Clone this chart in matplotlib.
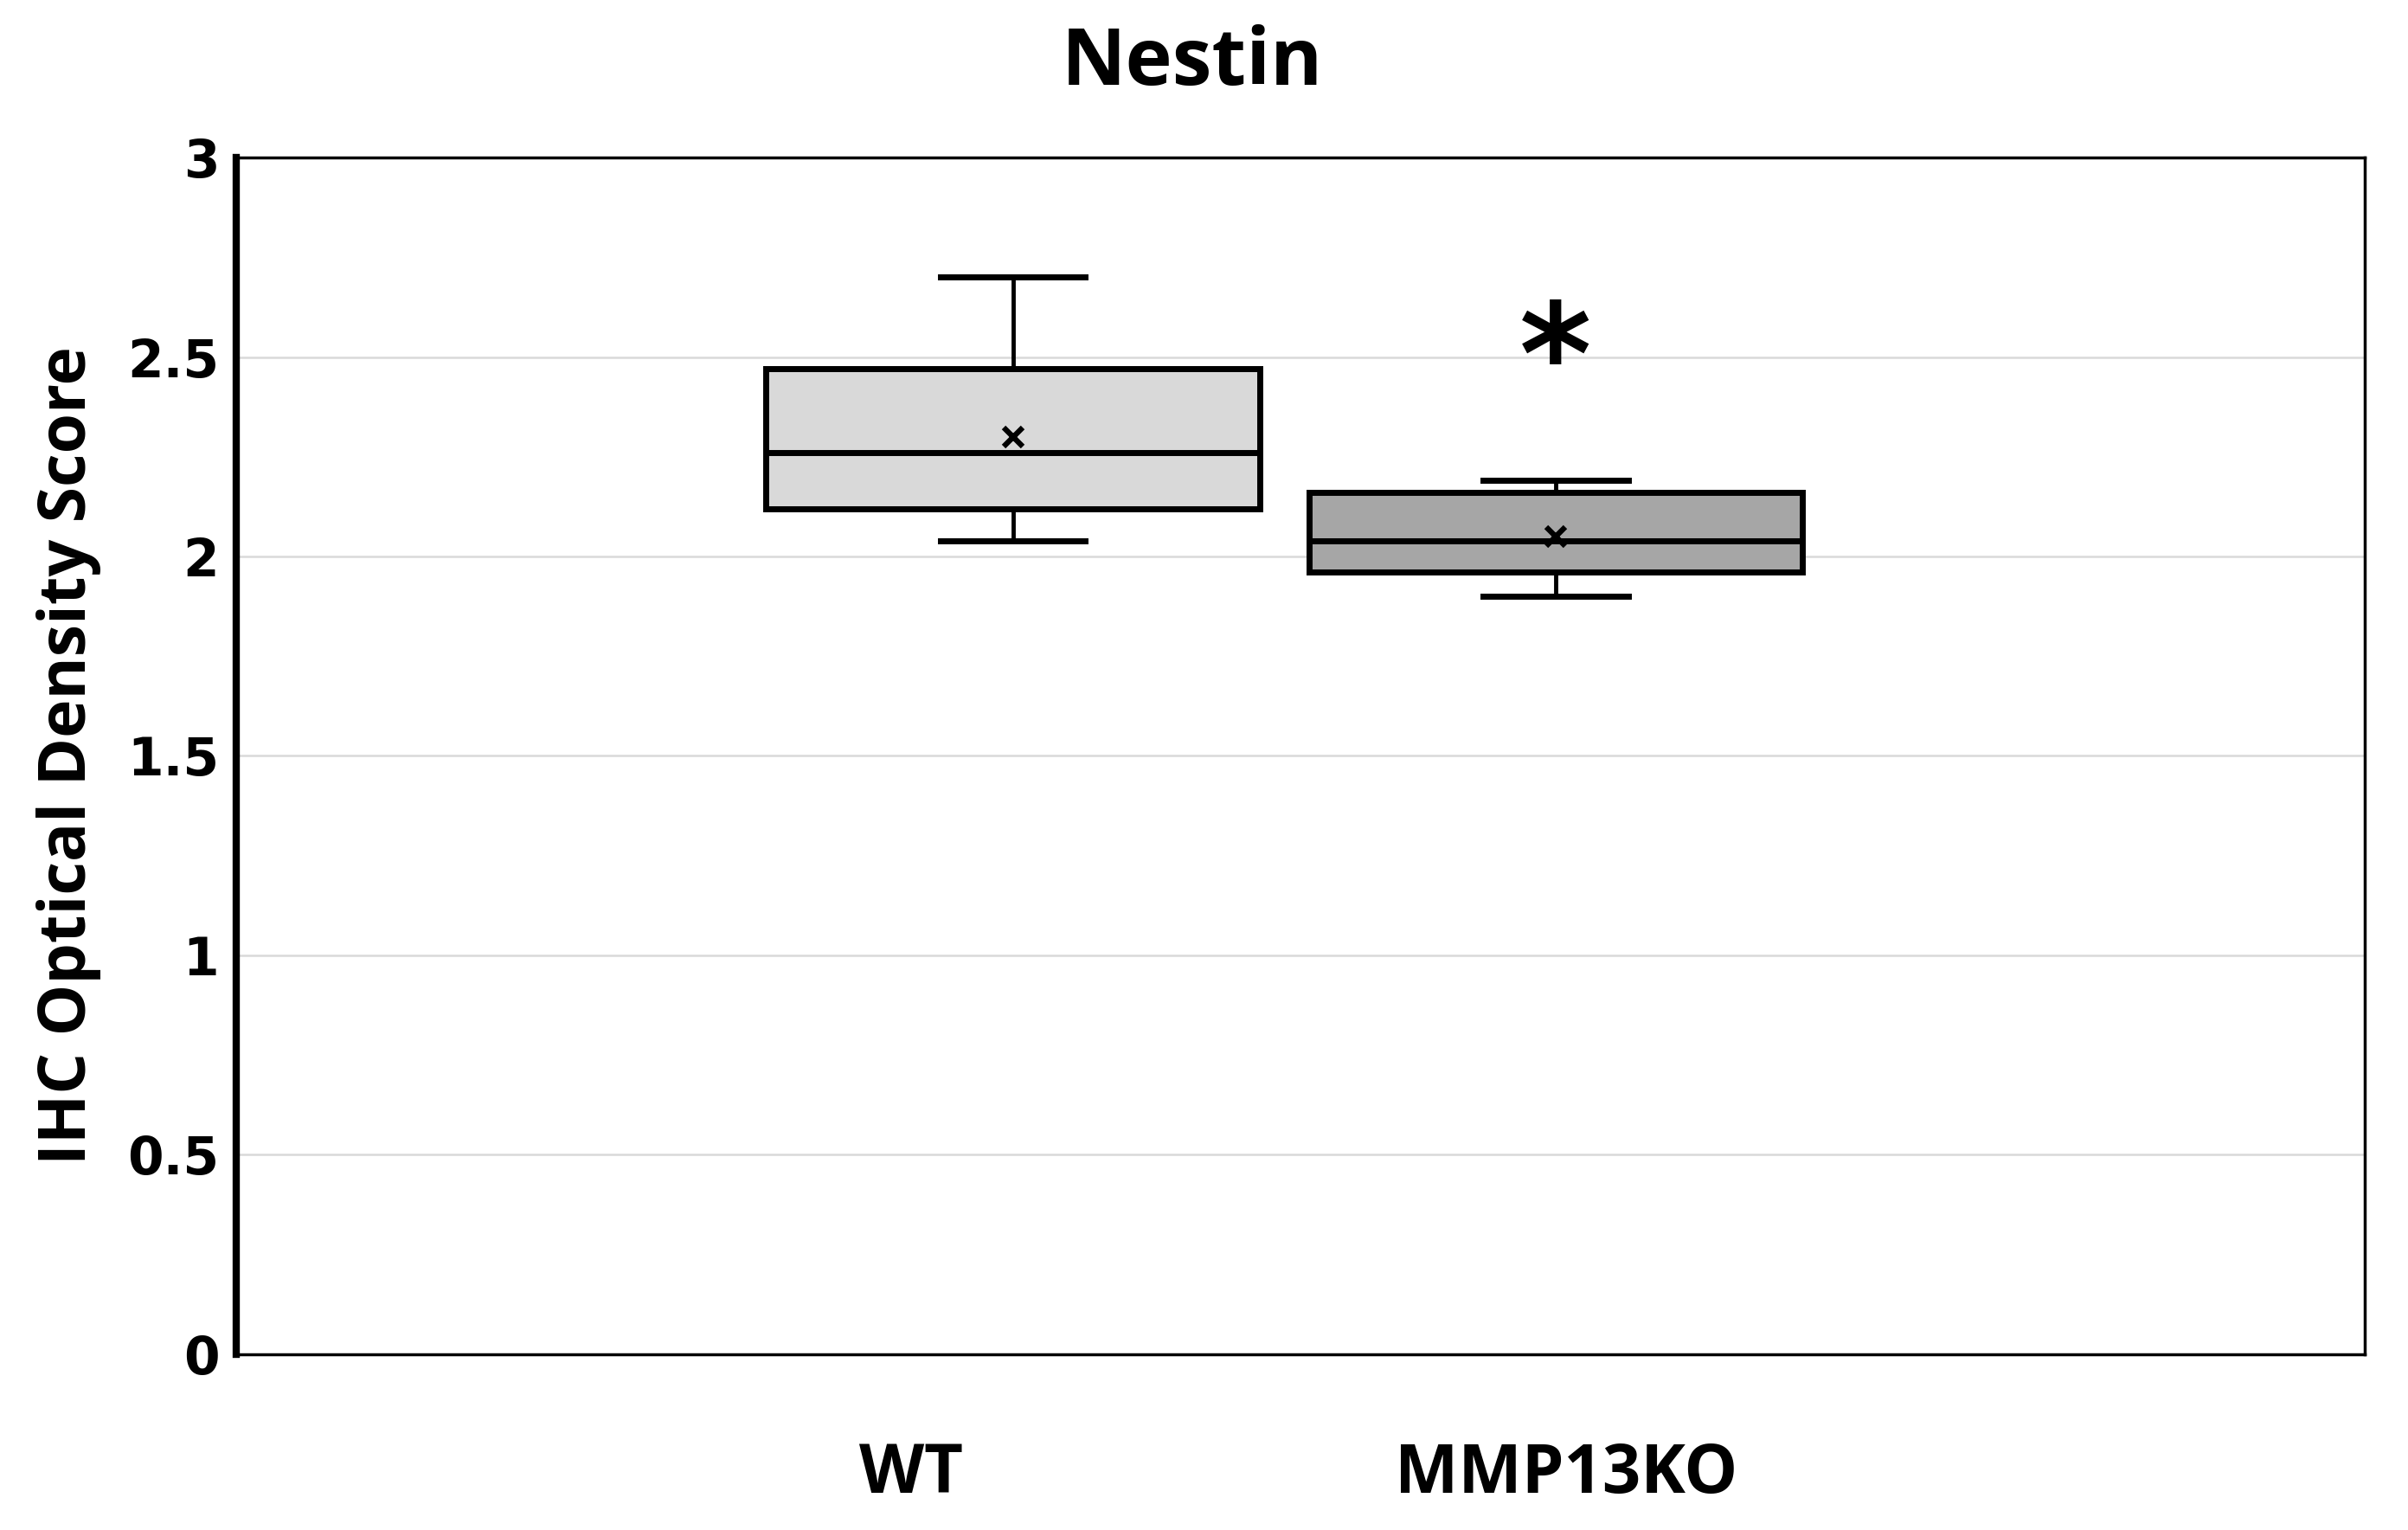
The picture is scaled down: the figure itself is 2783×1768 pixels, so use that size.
import matplotlib.pyplot as plt
import numpy as np

# box statistics
groups = ['WT', 'MMP13KO']
whislo = [2.04, 1.90]
q1 = [2.12, 1.96]
med = [2.26, 2.04]
q3 = [2.47, 2.16]
whishi = [2.70, 2.19]
means = [2.30, 2.05]
fills = ['#d9d9d9', '#a6a6a6']
yticks = [0, 0.5, 1, 1.5, 2, 2.5, 3]

stats = [dict(label=g, whislo=a, q1=b, med=c, q3=d, whishi=e, mean=m)
         for g, a, b, c, d, e, m in zip(groups, whislo, q1, med, q3, whishi, means)]

fig = plt.figure(figsize=(27.83, 17.68), dpi=100)
ax = fig.add_axes([0.098, 0.115, 0.884, 0.782])

pos = [0.365, 0.62]
bp = ax.bxp(stats, positions=pos, widths=0.232, capwidths=0.068, patch_artist=True,
            showmeans=True, meanline=False, showfliers=False,
            boxprops=dict(linewidth=5, edgecolor='black'),
            medianprops=dict(color='black', linewidth=5),
            whiskerprops=dict(color='black', linewidth=3.5),
            capprops=dict(color='black', linewidth=5),
            meanprops=dict(marker='x', markeredgecolor='black', markersize=16,
                           markeredgewidth=4.5))
for patch, c in zip(bp['boxes'], fills):
    patch.set_facecolor(c)
    patch.set_zorder(3)
for m in bp['medians'] + bp['means']:
    m.set_zorder(4)

# significance mark
ax.text(pos[1], 2.48, '*', ha='center', va='center', fontsize=115,
        fontweight='bold', family='DejaVu Sans')

ax.set_xlim(0, 1)
ax.set_ylim(0, 3)
ax.set_yticks(yticks)
ax.set_yticklabels(['0', '0.5', '1', '1.5', '2', '2.5', '3'])
ax.yaxis.grid(True, color='#d9d9d9', linewidth=1.8)
ax.set_axisbelow(True)
ax.tick_params(axis='y', length=0, pad=14, labelsize=43)
for lab in ax.get_yticklabels():
    lab.set_fontweight('bold')

ax.set_xticks([0.317, 0.625])
ax.set_xticklabels(groups, fontsize=56, fontweight='bold', family='Open Sans')
ax.tick_params(axis='x', length=0, pad=72)

for s in ['top', 'right', 'bottom']:
    ax.spines[s].set_linewidth(2.5)
ax.spines['left'].set_linewidth(6)

ax.set_ylabel('IHC Optical Density Score', fontsize=54, fontweight='bold',
              family='Open Sans', labelpad=22)
fig.text(0.495, 0.958, 'Nestin', ha='center', va='center', fontsize=66,
         fontweight='bold', family='Open Sans')

plt.savefig('out.png')
